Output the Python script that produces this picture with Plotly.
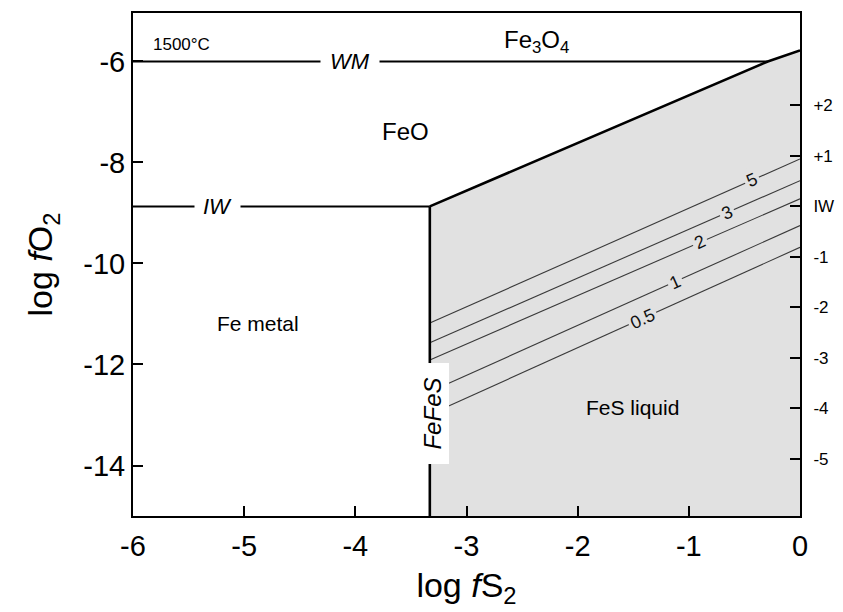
import plotly.graph_objects as go

# ---- data ----
IW_LOGFO2 = -8.87            # log fO2 of the IW buffer
WM_LOGFO2 = -6.0             # log fO2 of the WM buffer
FEFES_LOGFS2 = -3.33         # Fe/FeS boundary (log fS2)
WM_MEET_LOGFS2 = -0.29       # where FeO/FeS boundary meets WM
TOP_RIGHT_LOGFO2 = -5.78     # Fe3O4/FeS boundary at log fS2 = 0

x_ticks = [-6, -5, -4, -3, -2, -1, 0]
x_ticktext = ["-6", "-5", "-4", "-3", "-2", "-1", "0"]
y_ticks = [-6, -8, -10, -12, -14]
y_ticktext = ["-6", "-8", "-10", "-12", "-14"]
div_ticks = [2, 1, 0, -1, -2, -3, -4, -5]
div_ticktext = ["+2", "+1", "IW", "-1", "-2", "-3", "-4", "-5"]

contour_labels = ["5", "3", "2", "1", "0.5"]
contour_left_y = [-11.18, -11.57, -11.91, -12.54, -12.99]   # at log fS2 = FEFES_LOGFS2
contour_right_y = [-7.93, -8.36, -8.72, -9.25, -9.68]       # at log fS2 = 0
contour_label_x = [-0.43, -0.66, -0.90, -1.12, -1.42]

X_RANGE = [-6, 0]
Y_RANGE = [-15, -5.04]

FONT = "Liberation Sans, Arial, sans-serif"
GRAY = "#e1e1e1"

fig = go.Figure()

# FeS liquid field
fig.add_trace(go.Scatter(
    x=[FEFES_LOGFS2, FEFES_LOGFS2, WM_MEET_LOGFS2, 0, 0],
    y=[Y_RANGE[0], IW_LOGFO2, WM_LOGFO2, TOP_RIGHT_LOGFO2, Y_RANGE[0]],
    fill="toself", fillcolor=GRAY, mode="none", showlegend=False, hoverinfo="skip"))

# contour lines
for lab, yl, yr in zip(contour_labels, contour_left_y, contour_right_y):
    fig.add_trace(go.Scatter(x=[FEFES_LOGFS2, 0], y=[yl, yr], mode="lines",
                             line=dict(color="#3a3a3a", width=1.1),
                             showlegend=False, hoverinfo="skip"))

# boundaries
bl = dict(color="black", width=2.6)
fig.add_trace(go.Scatter(x=[X_RANGE[0], WM_MEET_LOGFS2], y=[WM_LOGFO2, WM_LOGFO2],
                         mode="lines", line=dict(color="black", width=2), showlegend=False))
fig.add_trace(go.Scatter(x=[X_RANGE[0], FEFES_LOGFS2], y=[IW_LOGFO2, IW_LOGFO2],
                         mode="lines", line=dict(color="black", width=2), showlegend=False))
fig.add_trace(go.Scatter(x=[FEFES_LOGFS2, FEFES_LOGFS2], y=[Y_RANGE[0], IW_LOGFO2],
                         mode="lines", line=bl, showlegend=False))
fig.add_trace(go.Scatter(x=[FEFES_LOGFS2, WM_MEET_LOGFS2, 0],
                         y=[IW_LOGFO2, WM_LOGFO2, TOP_RIGHT_LOGFO2],
                         mode="lines", line=bl, showlegend=False))
# IW reference on the right (ΔIW) axis, drawn invisibly so the axis exists
fig.add_trace(go.Scatter(x=[X_RANGE[0], X_RANGE[1]], y=[0, 0], yaxis="y2", mode="lines",
                         line=dict(width=0, color="rgba(0,0,0,0)"), showlegend=False,
                         hoverinfo="skip"))

ann = []
# contour labels
for lab, yl, yr, lx in zip(contour_labels, contour_left_y, contour_right_y, contour_label_x):
    ly = yl + (yr - yl) * (lx - FEFES_LOGFS2) / (0 - FEFES_LOGFS2)
    ann.append(dict(x=lx, y=ly, text=lab, showarrow=False, textangle=-24,
                    font=dict(family=FONT, size=18, color="#111"),
                    bgcolor=GRAY, borderpad=2))

txt = dict(family=FONT, size=21, color="black")
big = dict(family=FONT, size=24, color="black")
ann += [
    dict(x=-5.56, y=-5.67, text="1500°C", font=dict(family=FONT, size=17, color="black")),
    dict(x=-2.37, y=-5.6, text="Fe<sub>3</sub>O<sub>4</sub>", font=big),
    dict(x=-4.05, y=WM_LOGFO2, text="<i>WM</i>", font=dict(family=FONT, size=22, color="black"),
         bgcolor="white", borderpad=9),
    dict(x=-3.55, y=-7.38, text="FeO", font=big),
    dict(x=-5.24, y=IW_LOGFO2, text="<i>IW</i>", font=dict(family=FONT, size=22, color="black"),
         bgcolor="white", borderpad=8),
    dict(x=-4.88, y=-11.18, text="Fe metal", font=txt),
    dict(x=-1.51, y=-12.85, text="FeS liquid", font=txt),
    dict(x=-3.31, y=-12.97, text="<i>FeFeS</i>", textangle=-90, width=100, height=33,
         font=dict(family=FONT, size=24, color="black"), bgcolor="white", borderpad=0),
]
for a in ann:
    a.setdefault("showarrow", False)
    a.setdefault("xref", "x")
    a.setdefault("yref", "y")

axis_common = dict(showline=True, linecolor="black", linewidth=2, ticks="inside",
                   tickcolor="black", tickwidth=2, showgrid=False, zeroline=False,
                   automargin=False)

fig.update_layout(
    width=843, height=612,
    margin=dict(l=133, r=43, t=13, b=96),
    plot_bgcolor="white", paper_bgcolor="white",
    font=dict(family=FONT, color="black"),
    showlegend=False,
    annotations=ann,
    xaxis=dict(range=X_RANGE, tickvals=x_ticks, ticktext=x_ticktext, ticklen=10,
               mirror=True, tickfont=dict(size=29), ticklabelstandoff=3,
               title=dict(text="log <i>f</i>S<sub>2</sub>", font=dict(size=34), standoff=12),
               **axis_common),
    yaxis=dict(range=Y_RANGE, tickvals=y_ticks, ticktext=y_ticktext, ticklen=10,
               mirror=True, tickfont=dict(size=29),
               title=dict(text="log <i>f</i>O<sub>2</sub>", font=dict(size=34), standoff=20),
               **axis_common),
    yaxis2=dict(overlaying="y", side="right", anchor="x",
                range=[Y_RANGE[0] - IW_LOGFO2, Y_RANGE[1] - IW_LOGFO2],
                tickvals=div_ticks, ticktext=div_ticktext, ticklen=10,
                tickfont=dict(size=17), ticklabelstandoff=8, **axis_common),
)

fig.write_html("out.html", post_script="document.body.style.margin='0';",
               config={"displayModeBar": False})
